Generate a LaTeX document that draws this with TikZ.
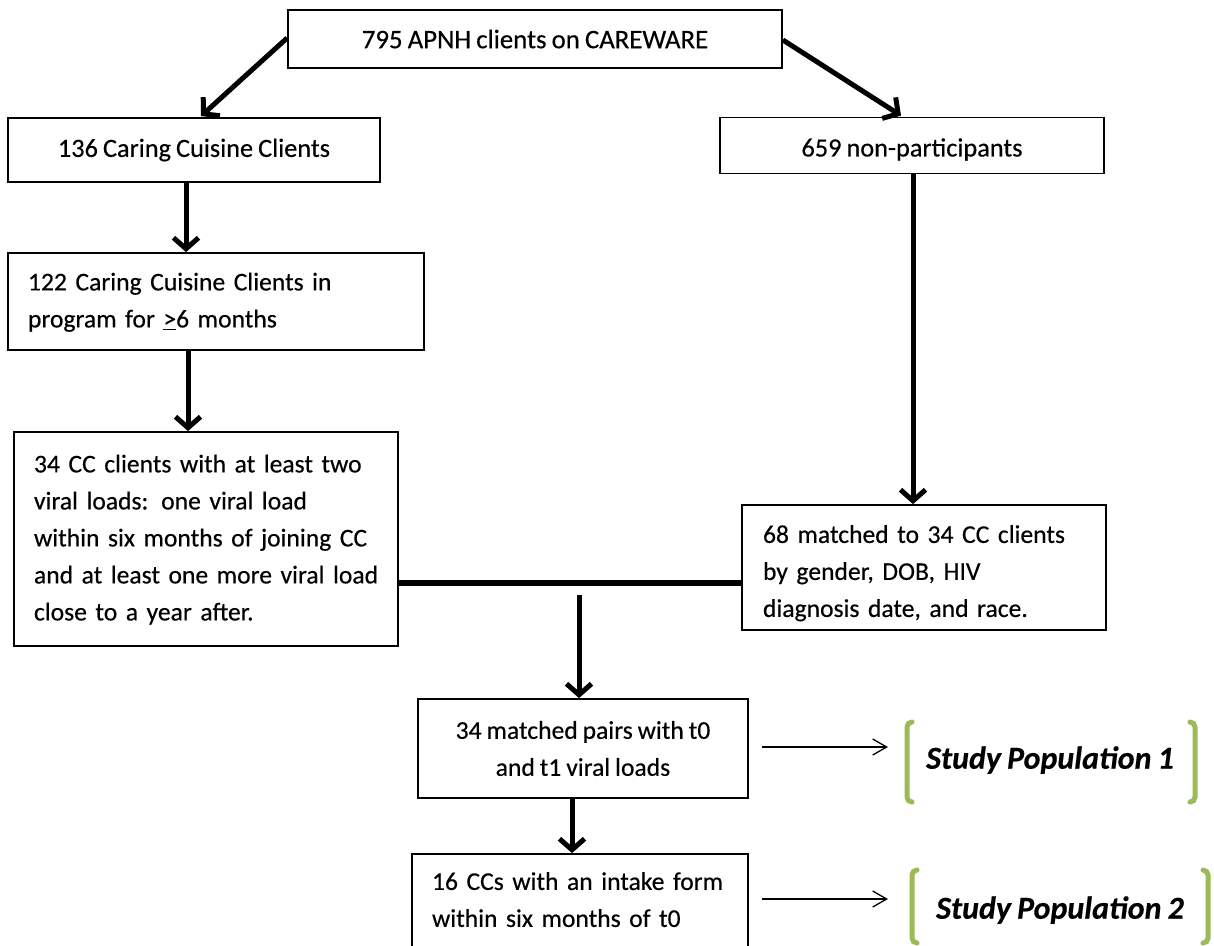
\documentclass[tikz,border=0pt]{standalone}
\usepackage{fontspec}
\setmainfont{Carlito}[WordSpace=0.85, FakeBold=0.35]
\usetikzlibrary{arrows.meta,calc}
\definecolor{spgreen}{RGB}{155,187,89}
\newcommand{\lowered}[2]{\raisebox{-#1}[\height][\depth]{#2}}
\newcommand{\lines}[1]{\begin{tabular}{@{}l@{}}#1\end{tabular}}
\begin{document}
\begin{tikzpicture}[x=1pt,y=-1pt,
  box/.style={draw, line width=1.8pt, inner sep=0pt, font=\fontsize{26.3}{37}\selectfont},
  small/.style={font=\fontsize{25.6}{37}\selectfont},
  lbox/.style={box, small, align=left},
  cbox/.style={box, align=center},
  thickarrow/.style={line width=5pt, -{Straight Barb[length=11pt,width=25pt]}},
  thinarrow/.style={line width=1.3pt, -{Straight Barb[length=14pt,width=16pt]}},
  bar/.style={line width=6pt},
  bracket/.style={draw=spgreen, line width=5pt, line cap=round, rounded corners=5pt},
  sp/.style={font=\fontsize{32}{38}\selectfont\bfseries\itshape}]
\clip (0,0) rectangle (1214,945);
\fill[white] (0,0) rectangle (1214,945);

% boxes
\node[cbox, font=\fontsize{26.8}{37}\selectfont, minimum width=494pt, minimum height=58pt] (b1) at (535,39) {795 APNH clients on CAREWARE};
\node[cbox, minimum width=372pt, minimum height=64pt] (b2) at (194,150) {136 Caring Cuisine Clients};
\node[cbox, minimum width=384pt, minimum height=56pt] (b3) at (912,145.5) {\lowered{4pt}{659 non-participants}};
\node[lbox, inner xsep=20pt, text width=376pt, minimum height=97pt] (b4) at (216,301.5)
  {\lines{122 Caring Cuisine Clients in\\program for \underline{>}6 months}};
\node[lbox, inner xsep=20pt, text width=344pt, minimum height=214pt] (b5) at (206,539)
  {\lines{34 CC clients with at least two\\viral loads: one viral load\\within six months of joining CC\\and at least one more viral load\\close to a year after.}};
\node[lbox, inner xsep=21pt, text width=322pt, minimum height=125pt] (b6) at (924,567.5)
  {\lowered{5pt}{\lines{68 matched to 34 CC clients\\by gender, DOB, HIV\\diagnosis date, and race.}}};
\node[cbox, small, minimum width=330pt, minimum height=99pt] (b7) at (583,748.5)
  {34 matched pairs with t0\\and t1 viral loads};
\node[lbox, inner xsep=20pt, text width=296pt, minimum height=94pt] (b8) at (580,901)
  {\lines{16 CCs with an intake form\\within six months of t0}};

% study populations
\node[sp] (sp1) at (1050,760) {Study Population 1};
\node[sp] (sp2) at (1060,910) {Study Population 2};
\draw[bracket] (912,722) -- (907,722) -- (907,802) -- (912,802);
\draw[bracket] (1190,722) -- (1195,722) -- (1195,802) -- (1190,802);
\draw[bracket] (917,870) -- (912,870) -- (912,943) -- (917,943);
\draw[bracket] (1203,870) -- (1208,870) -- (1208,943) -- (1203,943);

% helper coordinates
\coordinate (x3) at (186,0);
\coordinate (x4) at (188,0);
\coordinate (x5) at (913,0);
\coordinate (x6) at (579,0);
\coordinate (x7) at (572,0);
\coordinate (ybar) at (0,583);
\coordinate (e1) at (888,747);
\coordinate (e2) at (888,899);

% connectors
\draw[thickarrow] ($(b1.west)+(0,-1)$) -- ($(b2.north)+(7,-1)$);
\draw[thickarrow] ($(b1.east)+(0,1)$) -- ($(b3.north)+(-11,-1)$);
\draw[thickarrow] (b2.south -| x3) -- (b4.north -| x3);
\draw[thickarrow] (b4.south -| x4) -- (b5.north -| x4);
\draw[thickarrow] (b3.south -| x5) -- (b6.north -| x5);
\draw[bar] (b5.east |- ybar) -- (b6.west |- ybar);
\draw[thickarrow] ($(ybar -| x6)+(0,12)$) -- (b7.north -| x6);
\draw[thickarrow] (b7.south -| x7) -- (b8.north -| x7);
\draw[thinarrow] ($(b7.east)+(13,-1.5)$) -- (e1);
\draw[thinarrow] ($(b8.east)+(13,-2)$) -- (e2);
\end{tikzpicture}
\end{document}
